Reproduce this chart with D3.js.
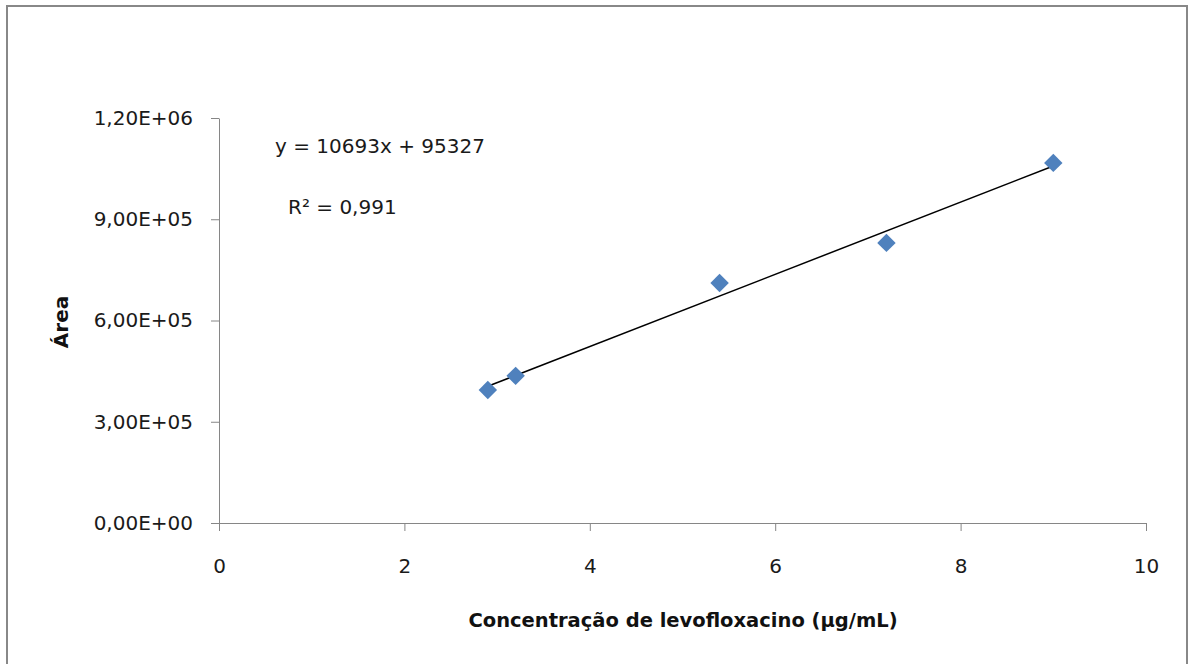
<!DOCTYPE html>
<html>
<head>
<meta charset="utf-8">
<script src="https://cdn.jsdelivr.net/npm/d3@7"></script>
<style>
  body { margin: 0; background: #fff; }
  svg { display: block; font-family: 'DejaVu Sans', sans-serif; }
  .axis path, .axis line { stroke: #868686; }
  .axis text { font-size: 20px; fill: #1a1a1a; font-family: 'DejaVu Sans', sans-serif; }
</style>
</head>
<body>
<svg width="1190" height="664"></svg>
<script>
'use strict';

// calibration points
const concentration = [2.9, 3.2, 5.4, 7.2, 9.0];
const area = [394000, 436000, 711000, 830000, 1067000];

const xTicks = [0, 2, 4, 6, 8, 10];
const yTicks = [0, 300000, 600000, 900000, 1200000];

const equationLabel = 'y = 10693x + 95327';
const r2Label = 'R² = 0,991';
const xTitle = 'Concentração de levofloxacino (μg/mL)';
const yTitle = 'Área';

const svg = d3.select('svg');
const width = +svg.attr('width');
const height = +svg.attr('height');

svg.append('rect')
  .attr('x', 7)
  .attr('y', 6)
  .attr('width', 1180)
  .attr('height', height + 20)
  .attr('fill', '#fff')
  .attr('stroke', '#888')
  .attr('stroke-width', 2);

const x = d3.scaleLinear().domain([0, 10]).range([219, 1146]);
const y = d3.scaleLinear().domain([0, 1200000]).range([523, 118]);

// 1,20E+06 style labels
function sci(v) {
  const parts = v.toExponential(2).split('e');
  const exp = parts[1];
  const sign = exp[0];
  const digits = String(Math.abs(+exp)).padStart(2, '0');
  return parts[0].replace('.', ',') + 'E' + sign + digits;
}

svg.append('g')
  .attr('class', 'axis')
  .attr('transform', 'translate(0,' + y(0) + ')')
  .call(d3.axisBottom(x)
    .tickValues(xTicks)
    .tickSize(8)
    .tickSizeOuter(0)
    .tickPadding(28)
    .tickFormat(d3.format('d')));

svg.append('g')
  .attr('class', 'axis')
  .attr('transform', 'translate(' + x(0) + ',0)')
  .call(d3.axisLeft(y)
    .tickValues(yTicks)
    .tickSize(8)
    .tickSizeOuter(0)
    .tickPadding(18)
    .tickFormat(sci));

svg.selectAll('.axis .domain').attr('stroke', '#868686');

// least squares trend line
const mx = d3.mean(concentration);
const my = d3.mean(area);
const sxy = d3.sum(concentration, (c, i) => (c - mx) * (area[i] - my));
const sxx = d3.sum(concentration, c => (c - mx) * (c - mx));
const slope = sxy / sxx;
const intercept = my - slope * mx;
const xExtent = d3.extent(concentration);

svg.append('line')
  .attr('x1', x(xExtent[0]))
  .attr('y1', y(slope * xExtent[0] + intercept))
  .attr('x2', x(xExtent[1]))
  .attr('y2', y(slope * xExtent[1] + intercept))
  .attr('stroke', '#000')
  .attr('stroke-width', 1.5);

const points = concentration.map((c, i) => ({ c: c, a: area[i] }));

svg.append('g')
  .selectAll('path')
  .data(points)
  .enter().append('path')
    .attr('d', d3.symbol(d3.symbolSquare, 170))
    .attr('transform', d => 'translate(' + x(d.c) + ',' + y(d.a) + ') rotate(45)')
    .attr('fill', '#4f81bd');

svg.append('text')
  .attr('x', 275)
  .attr('y', 153)
  .attr('font-size', 20)
  .attr('fill', '#1a1a1a')
  .text(equationLabel);

svg.append('text')
  .attr('x', 288)
  .attr('y', 214)
  .attr('font-size', 20)
  .attr('fill', '#1a1a1a')
  .text(r2Label);

svg.append('text')
  .attr('x', 683)
  .attr('y', 627)
  .attr('text-anchor', 'middle')
  .attr('font-size', 19.5)
  .attr('font-weight', 'bold')
  .attr('fill', '#111')
  .text(xTitle);

svg.append('text')
  .attr('transform', 'translate(68,322) rotate(-90)')
  .attr('text-anchor', 'middle')
  .attr('font-size', 20)
  .attr('font-weight', 'bold')
  .attr('fill', '#111')
  .text(yTitle);
</script>
</body>
</html>
